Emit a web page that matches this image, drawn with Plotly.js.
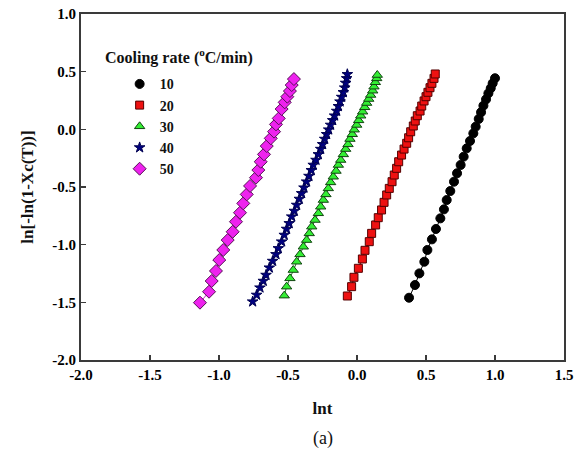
<!DOCTYPE html>
<html>
<head>
<meta charset="utf-8">
<script src="https://cdn.plot.ly/plotly-3.0.1.min.js"></script>
<style>
  html, body { margin: 0; padding: 0; background: #fff; }
  #chart { width: 583px; height: 456px; }
</style>
</head>
<body>
<div id="chart"></div>
<script>
// Avrami plot: ln[-ln(1-Xc(T))] against ln t for five cooling rates
const rateLabels = ['10', '20', '30', '40', '50'];

const lnt10 = [0.377, 0.420, 0.452, 0.488, 0.510, 0.543, 0.572, 0.604, 0.630, 0.650, 0.676, 0.703, 0.725, 0.751,
  0.773, 0.795, 0.819, 0.843, 0.860, 0.882, 0.899, 0.916, 0.935, 0.952, 0.969, 0.983, 1.000];
const y10 = [-1.460, -1.350, -1.249, -1.148, -1.046, -0.954, -0.864, -0.772, -0.694, -0.613, -0.535, -0.454, -0.381, -0.309,
  -0.237, -0.165, -0.101, -0.035, 0.023, 0.090, 0.148, 0.205, 0.260, 0.312, 0.356, 0.399, 0.443];

const lnt20 = [-0.070, -0.039, -0.022, 0.010, 0.039, 0.058, 0.089, 0.106, 0.135, 0.154, 0.178, 0.196, 0.215, 0.234,
  0.254, 0.270, 0.287, 0.302, 0.323, 0.341, 0.360, 0.374, 0.389, 0.408, 0.422, 0.437, 0.457, 0.469, 0.486, 0.500,
  0.514, 0.529, 0.543, 0.558, 0.567];
const y20 = [-1.445, -1.364, -1.283, -1.205, -1.124, -1.049, -0.974, -0.902, -0.829, -0.766, -0.699, -0.633, -0.569, -0.512,
  -0.454, -0.396, -0.338, -0.281, -0.223, -0.171, -0.121, -0.073, -0.021, 0.029, 0.072, 0.118, 0.159, 0.202, 0.246, 0.283,
  0.321, 0.361, 0.399, 0.442, 0.480];

const lnt30 = [-0.527, -0.510, -0.486, -0.462, -0.437, -0.413, -0.389, -0.365, -0.346, -0.328, -0.304, -0.280, -0.263, -0.244,
  -0.225, -0.208, -0.191, -0.172, -0.152, -0.135, -0.118, -0.099, -0.082, -0.065, -0.051, -0.034, -0.020, -0.002, 0.012,
  0.027, 0.041, 0.056, 0.070, 0.085, 0.099, 0.114, 0.123, 0.133, 0.143, 0.147];
const y30 = [-1.442, -1.364, -1.292, -1.220, -1.148, -1.084, -1.018, -0.960, -0.902, -0.844, -0.786, -0.728, -0.671, -0.613,
  -0.564, -0.512, -0.460, -0.411, -0.361, -0.309, -0.266, -0.217, -0.171, -0.130, -0.084, -0.043, -0.003, 0.038, 0.078,
  0.118, 0.153, 0.191, 0.228, 0.263, 0.298, 0.335, 0.370, 0.408, 0.442, 0.471];

const lnt40 = [-0.756, -0.727, -0.703, -0.679, -0.659, -0.635, -0.611, -0.587, -0.570, -0.546, -0.527, -0.510, -0.491, -0.473,
  -0.454, -0.437, -0.418, -0.401, -0.384, -0.365, -0.348, -0.331, -0.317, -0.297, -0.280, -0.263, -0.249, -0.234, -0.220,
  -0.205, -0.191, -0.176, -0.162, -0.147, -0.135, -0.123, -0.111, -0.099, -0.089, -0.082, -0.075, -0.070];
const y40 = [-1.494, -1.436, -1.373, -1.315, -1.263, -1.200, -1.142, -1.084, -1.032, -0.974, -0.916, -0.864, -0.815, -0.757,
  -0.708, -0.656, -0.604, -0.555, -0.506, -0.454, -0.405, -0.355, -0.309, -0.266, -0.217, -0.171, -0.130, -0.084, -0.043,
  -0.003, 0.038, 0.078, 0.118, 0.159, 0.200, 0.240, 0.280, 0.321, 0.361, 0.402, 0.442, 0.477];

const lnt50 = [-1.138, -1.072, -1.053, -1.022, -0.998, -0.969, -0.937, -0.901, -0.877, -0.848, -0.824, -0.799, -0.775, -0.732,
  -0.715, -0.698, -0.674, -0.654, -0.625, -0.601, -0.587, -0.567, -0.546, -0.524, -0.505, -0.486, -0.473, -0.457];
const y50 = [-1.503, -1.408, -1.315, -1.228, -1.133, -1.046, -0.960, -0.888, -0.801, -0.723, -0.642, -0.564, -0.491, -0.419,
  -0.353, -0.281, -0.217, -0.145, -0.078, -0.020, 0.043, 0.095, 0.176, 0.234, 0.283, 0.332, 0.384, 0.436];

const xTicks = [-2.0, -1.5, -1.0, -0.5, 0.0, 0.5, 1.0, 1.5];
const yTicks = [-2.0, -1.5, -1.0, -0.5, 0.0, 0.5, 1.0];

const serif = 'Liberation Serif, Times New Roman, serif';

const styles = [
  { x: lnt10, y: y10, symbol: 'circle',      fill: '#000000', edge: '#000000', line: '#000000', size: 9 },
  { x: lnt20, y: y20, symbol: 'square',      fill: '#ee1111', edge: '#550000', line: '#880000', size: 8 },
  { x: lnt30, y: y30, symbol: 'triangle-up', fill: '#33ee33', edge: '#114411', line: '#227722', size: 9 },
  { x: lnt40, y: y40, symbol: 'star',        fill: '#000080', edge: '#000050', line: '#000080', size: 8 },
  { x: lnt50, y: y50, symbol: 'diamond',     fill: '#ee22ee', edge: '#551155', line: '#cc22cc', size: 10 }
];

const traces = [];
// thin connecting lines under the markers
styles.forEach(s => traces.push({
  x: s.x, y: s.y, type: 'scatter', mode: 'lines', showlegend: false, hoverinfo: 'skip',
  line: { color: s.line, width: 1 }
}));
// markers, one legend entry per cooling rate
styles.forEach((s, i) => traces.push({
  x: s.x, y: s.y, name: rateLabels[i], type: 'scatter', mode: 'markers',
  marker: { symbol: s.symbol, size: s.size, color: s.fill, line: { color: s.edge, width: 1 } }
}));

function axisStyle() {
  return {
    showline: true, linecolor: '#3a3a3a', linewidth: 2, mirror: true,
    ticks: 'inside', ticklen: 5, tickwidth: 1.5, tickcolor: '#3a3a3a',
    showgrid: false, zeroline: false,
    tickfont: { family: serif, size: 15, color: '#000000', weight: 700 }
  };
}

const layout = {
  width: 583, height: 456,
  margin: { l: 81, r: 19, t: 14, b: 96 },
  paper_bgcolor: '#ffffff', plot_bgcolor: '#ffffff',
  font: { family: serif, color: '#111' },
  showlegend: true,
  legend: {
    x: 0.08, y: 0.843, xanchor: 'left', yanchor: 'top',
    bgcolor: 'rgba(0,0,0,0)', borderwidth: 0,
    font: { family: serif, size: 14, color: '#111', weight: 'bold' },
    itemwidth: 30
  },
  xaxis: Object.assign(axisStyle(), {
    range: [-2.0, 1.5], tickvals: xTicks, ticktext: xTicks.map(v => '<b>' + v.toFixed(1) + '</b>'),
    title: { text: '<b>lnt</b>', font: { family: serif, size: 17, color: '#111' }, standoff: 20 }
  }),
  yaxis: Object.assign(axisStyle(), {
    range: [-2.0, 1.0], tickvals: yTicks, ticktext: yTicks.map(v => '<b>' + v.toFixed(1) + '</b>'),
    title: { text: '<b>ln[-ln(1-Xc(T))]</b>', font: { family: serif, size: 17, color: '#111' }, standoff: 14 }
  }),
  annotations: [
    {
      text: '<b>Cooling rate (<sup>o</sup>C/min)</b>', xref: 'paper', yref: 'paper',
      x: 0.045, y: 0.878, xanchor: 'left', yanchor: 'middle', showarrow: false,
      font: { family: serif, size: 16, color: '#111' }
    },
    {
      text: '(a)', xref: 'paper', yref: 'paper', x: 0.5, y: -0.228,
      xanchor: 'center', yanchor: 'middle', showarrow: false,
      font: { family: serif, size: 18, color: '#111' }
    }
  ]
};

Plotly.newPlot('chart', traces, layout, { displayModeBar: false, staticPlot: true });
</script>
</body>
</html>
